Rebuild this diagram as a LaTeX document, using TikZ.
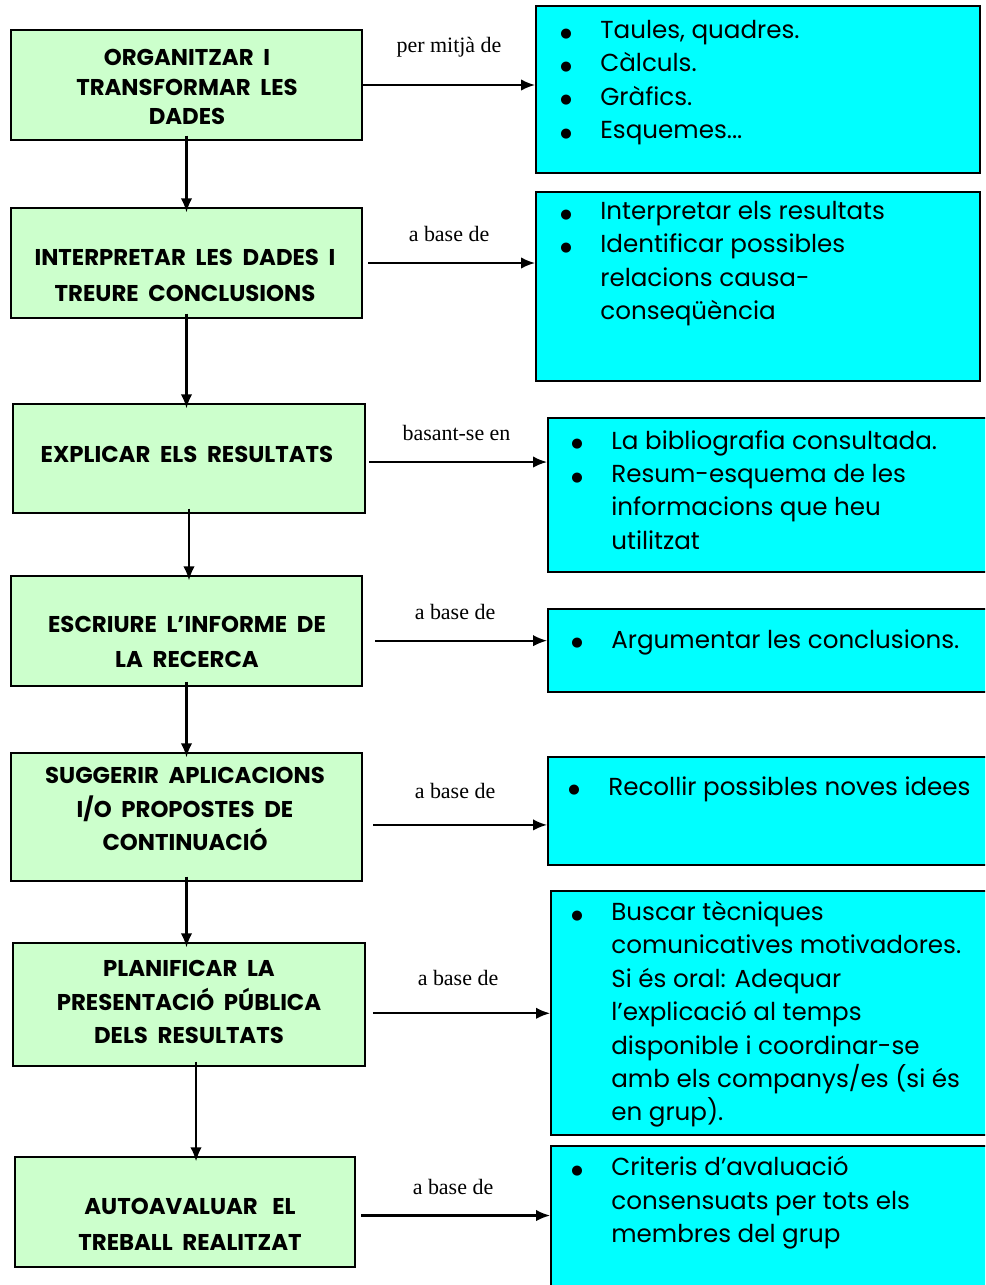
\documentclass[tikz,border=0pt]{standalone}
\usepackage{fontspec}
\setmainfont{Liberation Serif}
\setsansfont{Poppins}
\newfontfamily\dotfont{DejaVu Sans}
\usepackage{tikz}
\usetikzlibrary{positioning, arrows.meta, fit}

\definecolor{stepgreen}{HTML}{CCFFCC}
\definecolor{listcyan}{HTML}{00FFFF}

\newcommand{\blt}{\makebox[0.8cm][l]{\raisebox{0.8pt}{\dotfont\fontsize{7.5}{8}\selectfont ●}}}
\newcommand{\ind}{\hspace*{0.8cm}}

\begin{document}
\begin{tikzpicture}[x=0.02cm, y=-0.02cm, >={Latex[length=8pt, width=6.5pt]}]
    \tikzset{
        stepbox/.style={draw, line width=1pt, fill=stepgreen, inner sep=0pt},
        steptext/.style={inner sep=0pt, align=center,
            font=\sffamily\bfseries\fontsize{13}{#1}\selectfont},
        steptext/.default=19,
        listbox/.style={draw, line width=1pt, fill=listcyan, inner sep=0pt},
        listtext/.style={anchor=north west, inner sep=0pt, align=left,
            font=\sffamily\fontsize{14}{19}\selectfont},
        link/.style={->, line width=1.2pt},
        linklabel/.style={above=8pt, font=\fontsize{12.5}{14}\selectfont}
    }

    \useasboundingbox (0,0) rectangle (985,1285);
    \clip (0,0) rectangle (985,1285);

    % steps
    \node[stepbox, fit={(11,30) (362,140)}] (org) {};
    \node[stepbox, fit={(11,208) (362,318)}] (inter) {};
    \node[stepbox, fit={(13,404) (365,513)}] (expl) {};
    \node[stepbox, fit={(11,576) (362,686)}] (escr) {};
    \node[stepbox, fit={(11,753) (362,881)}] (sugg) {};
    \node[stepbox, fit={(13,943) (365,1066)}] (plan) {};
    \node[stepbox, fit={(15,1157) (355,1267)}] (auto) {};

    \node[steptext=17] (orgtxt) at (187,87) {ORGANITZAR\ \ I\\TRANSFORMAR\ \ LES\\DADES};
    \node[steptext=20.5] (intertxt) at (185,275) {INTERPRETAR\ \ LES\ \ DADES\ \ I\\TREURE\ \ CONCLUSIONS};
    \node[steptext] (expltxt) at (187,454) {EXPLICAR\ \ ELS\ \ RESULTATS};
    \node[steptext=20] (escrtxt) at (187,642) {ESCRIURE\ \ L'INFORME\ \ DE\\LA\ \ RECERCA};
    \node[steptext] (suggtxt) at (185,809) {SUGGERIR\ \ APLICACIONS\\I/O\ \ PROPOSTES\ \ DE\\CONTINUACIÓ};
    \node[steptext] (plantxt) at (189,1002) {PLANIFICAR\ \ LA\\PRESENTACIÓ\ \ PÚBLICA\\DELS\ \ RESULTATS};
    \node[steptext=20.5] (autotxt) at (190,1224) {AUTOAVALUAR\ \ \ EL\\TREBALL\ \ REALITZAT};

    % lists
    \node[listbox, fit={(536,6) (980,173)}] (tab) {};
    \node[listbox, fit={(536,192) (980,381)}] (res) {};
    \node[listbox, fit={(548,418) (995,572)}] (bib) {};
    \node[listbox, fit={(548,609) (995,692)}] (arg) {};
    \node[listbox, fit={(548,757) (995,865)}] (idees) {};
    \node[listbox, fit={(551,891) (995,1135)}] (tecn) {};
    \node[listbox, fit={(551,1146) (995,1300)}] (crit) {};

    \node[listtext] (tabtxt) at (560,20) {\blt Taules, quadres.\\\blt Càlculs.\\\blt Gràfics.\\\blt Esquemes...};
    \node[listtext] (restxt) at (560,201) {\blt Interpretar els resultats\\\blt Identificar possibles\\\ind relacions causa-\\\ind conseqüència};
    \node[listtext] (bibtxt) at (571,430) {\blt La bibliografia consultada.\\\blt Resum-esquema de les\\\ind informacions que heu\\\ind utilitzat};
    \node[listtext] (argtxt) at (571,629) {\blt Argumentar les conclusions.};
    \node[listtext] (ideestxt) at (568,776) {\blt Recollir possibles noves idees};
    \node[listtext] (tecntxt) at (571,901) {\blt Buscar tècniques\\\ind comunicatives motivadores.\\\ind Si és oral: Adequar\\\ind l'explicació al temps\\\ind disponible i coordinar-se\\\ind amb els companys/es (si és\\\ind en grup).};
    \node[listtext] (crittxt) at (571,1156) {\blt Criteris d'avaluació\\\ind consensuats per tots els\\\ind membres del grup};

    % flow
    \draw[link, shorten <=-3pt, shorten >=-3pt] (org.south) -- (org.south |- inter.north);
    \draw[link, shorten <=-3pt, shorten >=-3pt] (inter.south) -- (inter.south |- expl.north);
    \draw[link, shorten <=-3pt, shorten >=-3pt] (expl.south) -- (expl.south |- escr.north);
    \draw[link, shorten <=-3pt, shorten >=-3pt] (escr.south) -- (escr.south |- sugg.north);
    \draw[link, shorten <=-3pt, shorten >=-3pt] (sugg.south) -- (sugg.south |- plan.north);
    \draw[link, shorten <=-3pt, shorten >=-3pt] ([xshift=4pt]plan.south) -- ([xshift=4pt]plan.south |- auto.north);

    \draw[link] (org.east) -- (org.east -| tab.west) node[midway, linklabel, above=12pt] {per mitjà de};
    \draw[link, shorten <=3pt] (inter.east) -- (inter.east -| res.west) node[midway, linklabel] {a base de};
    \draw[link, shorten <=2pt] ([yshift=-2pt]expl.east) -- ([yshift=-2pt]expl.east -| bib.west) node[midway, linklabel] {basant-se en};
    \draw[link, shorten <=7pt] ([yshift=-5.5pt]escr.east) -- ([yshift=-5.5pt]escr.east -| arg.west) node[midway, linklabel] {a base de};
    \draw[link, shorten <=6pt] ([yshift=-4.5pt]sugg.east) -- ([yshift=-4.5pt]sugg.east -| idees.west) node[midway, linklabel, above=11pt] {a base de};
    \draw[link, shorten <=4pt] ([yshift=-5pt]plan.east) -- ([yshift=-5pt]plan.east -| tecn.west) node[midway, linklabel, above=12pt] {a base de};
    \draw[link, shorten <=3pt] ([yshift=-2pt]auto.east) -- ([yshift=-2pt]auto.east -| crit.west) node[midway, linklabel] {a base de};
\end{tikzpicture}
\end{document}
